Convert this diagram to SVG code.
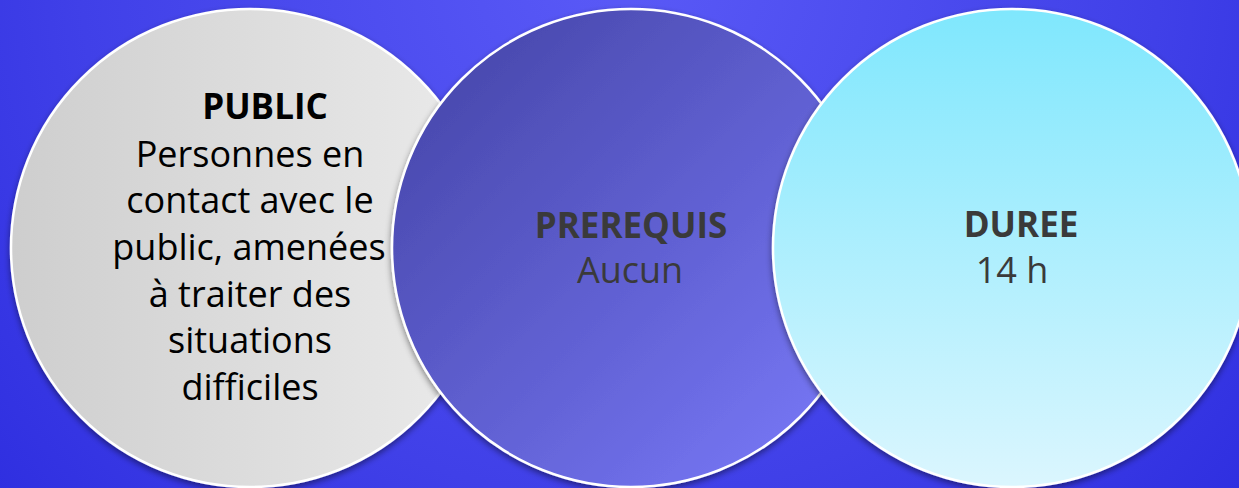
<svg xmlns="http://www.w3.org/2000/svg" width="1239" height="488" viewBox="0 0 1239 488">
  <defs>
    <radialGradient id="bg" cx="620" cy="-40" r="900" gradientUnits="userSpaceOnUse">
      <stop offset="0" stop-color="#5a5af7"/>
      <stop offset="0.6" stop-color="#4040e8"/>
      <stop offset="1" stop-color="#2a2ade"/>
    </radialGradient>
    <linearGradient id="gLeft" x1="0" y1="0" x2="1" y2="0">
      <stop offset="0" stop-color="#cecece"/>
      <stop offset="1" stop-color="#ebebeb"/>
    </linearGradient>
    <linearGradient id="gMid" x1="0.1" y1="0.1" x2="0.9" y2="0.9">
      <stop offset="0" stop-color="#4848ac"/>
      <stop offset="1" stop-color="#7676f4"/>
    </linearGradient>
    <linearGradient id="gRight" x1="0" y1="0" x2="0" y2="1">
      <stop offset="0" stop-color="#7fe7fd"/>
      <stop offset="1" stop-color="#dbf6fe"/>
    </linearGradient>
    <filter id="shadow" x="-10%" y="-10%" width="120%" height="125%">
      <feDropShadow dx="0" dy="3" stdDeviation="3" flood-color="#000" flood-opacity="0.45"/>
    </filter>
  </defs>
  <style>
    .circ { stroke: #ffffff; stroke-width: 2.5; filter: url(#shadow); }
    .t { font-family: "Open Sans", "Liberation Sans", sans-serif; font-size: 36px; text-anchor: middle; }
    .b { font-weight: bold; font-size: 35px; }
    .dark { fill: #000000; }
    .grey { fill: #3a3a3a; }
  </style>
  <rect x="0" y="0" width="1239" height="488" fill="url(#bg)"/>
  <g id="node-public">
    <circle class="circ" cx="250" cy="248" r="239" fill="url(#gLeft)"/>
    <text class="t b dark" x="265" y="119">PUBLIC</text>
    <text class="t dark" x="250" y="167">Personnes en</text>
    <text class="t dark" x="250" y="213">contact avec le</text>
    <text class="t dark" x="249" y="260">public, amenées</text>
    <text class="t dark" x="250" y="307">à traiter des</text>
    <text class="t dark" x="250" y="353">situations</text>
    <text class="t dark" x="250" y="400">difficiles</text>
  </g>
  <g id="node-prerequis">
    <circle class="circ" cx="631" cy="248" r="239" fill="url(#gMid)"/>
    <text class="t b grey" x="631" y="238">PREREQUIS</text>
    <text class="t grey" x="630" y="283">Aucun</text>
  </g>
  <g id="node-duree">
    <circle class="circ" cx="1012" cy="248" r="239" fill="url(#gRight)"/>
    <text class="t b grey" x="1021" y="237">DUREE</text>
    <text class="t grey" x="1012" y="283">14 h</text>
  </g>
  <g id="connectors"/>
</svg>
